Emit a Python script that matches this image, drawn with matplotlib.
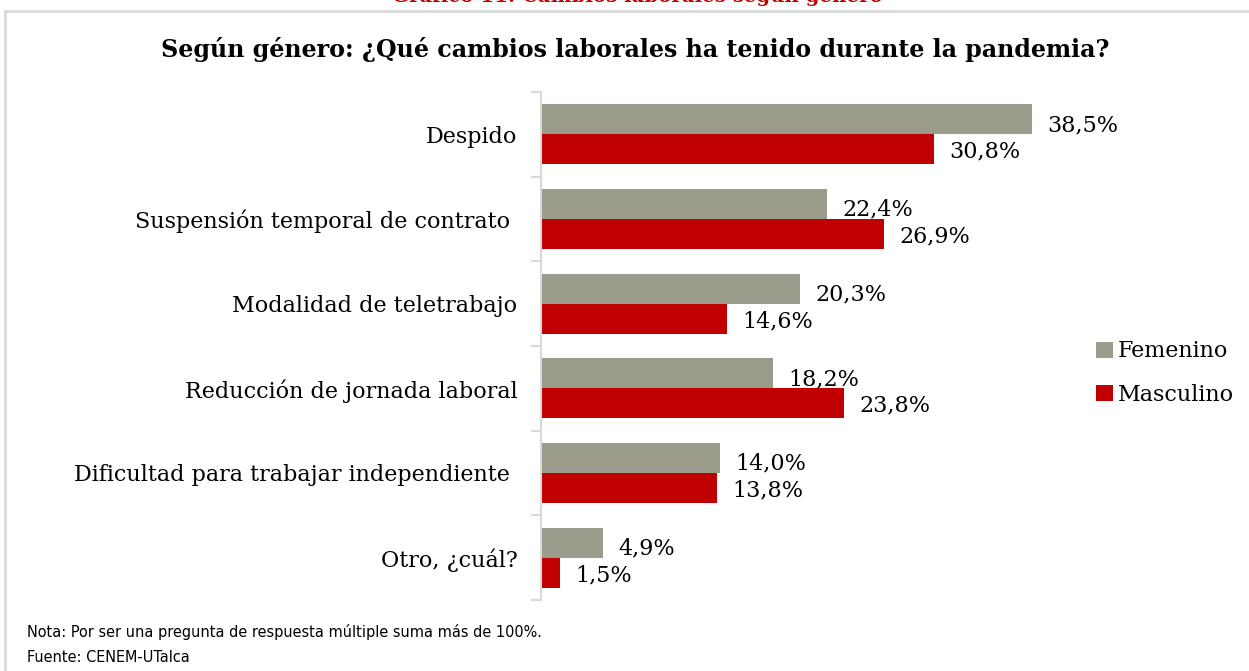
"""Cambios laborales durante la pandemia, según género (barras horizontales)."""

import matplotlib

matplotlib.use("Agg")
import matplotlib.pyplot as plt
import numpy as np
from matplotlib import font_manager
from matplotlib.font_manager import FontProperties
from matplotlib.patches import Rectangle

categories = [
    "Despido",
    "Suspensión temporal de contrato ",
    "Modalidad de teletrabajo",
    "Reducción de jornada laboral",
    "Dificultad para trabajar independiente ",
    "Otro, ¿cuál?",
]
femenino = [38.5, 22.4, 20.3, 18.2, 14.0, 4.9]
masculino = [30.8, 26.9, 14.6, 23.8, 13.8, 1.5]
series_names = ["Femenino", "Masculino"]

GRAY = "#9B9B8B"
RED = "#C00000"
SERIF = ["DejaVu Serif"]


def narrow_sans(size: float) -> FontProperties:
    """Pick a condensed sans face if one is installed, else shrink a normal one."""
    wanted = ("Liberation Sans Narrow", "DejaVu Sans", "Noto Sans", "Open Sans")
    for name in wanted:
        for entry in font_manager.fontManager.ttflist:
            if (entry.name == name and entry.style == "normal"
                    and str(entry.stretch) in ("condensed", "semi-condensed")
                    and entry.weight in (400, "normal", "regular")):
                return FontProperties(fname=entry.fname, size=size)
    return FontProperties(family="Liberation Sans", size=size * 0.8)


W, H = 1249, 671
fig = plt.figure(figsize=(W / 100, H / 100), dpi=100)
fig.patch.set_facecolor("white")

# outer frame
fig.patches.append(
    Rectangle((5 / W, -0.05), 1.1, 1 - 11 / H + 0.05, transform=fig.transFigure,
              fill=False, edgecolor="#D9D9D9", linewidth=2)
)

# cut-off caption at the very top
fig.text(637 / W, 1 + 4 / H, "Gráfico 11: Cambios laborales según género",
         ha="center", va="center", color=RED, fontsize=14.2, fontweight="bold",
         family=SERIF)

fig.text(635 / W, 1 - 50 / H,
         "Según género: ¿Qué cambios laborales ha tenido durante la pandemia?",
         ha="center", va="center", fontsize=17.1, fontweight="bold", family=SERIF)

ax = fig.add_axes([541 / W, 71 / H, 519 / W, 508 / H])
y = np.arange(len(categories))
h = 0.355
ax.barh(y - h / 2, femenino, height=h, color=GRAY, label=series_names[0])
ax.barh(y + h / 2, masculino, height=h, color=RED, label=series_names[1])

for yi, f, m in zip(y, femenino, masculino):
    ax.text(f + 1.2, yi - h / 2 + 0.07, f"{f:.1f}%".replace(".", ","),
            va="center", ha="left", fontsize=16, family=SERIF)
    ax.text(m + 1.2, yi + h / 2 + 0.03, f"{m:.1f}%".replace(".", ","),
            va="center", ha="left", fontsize=16, family=SERIF)

ax.set_xlim(0, 40.7)
ax.set_ylim(len(categories) - 0.5, -0.5)
ax.set_yticks(y)
ax.set_yticklabels(categories, fontsize=16, family=SERIF)
ax.tick_params(axis="y", which="major", length=0, pad=17)
ax.set_yticks(np.arange(len(categories) + 1) - 0.5, minor=True)
ax.tick_params(axis="y", which="minor", length=7, color="#D9D9D9", width=1.5)
ax.set_xticks([])
for side in ("top", "right", "bottom"):
    ax.spines[side].set_visible(False)
ax.spines["left"].set_color("#D9D9D9")
ax.spines["left"].set_linewidth(1.5)

fig.legend(loc="center left", bbox_to_anchor=(1076 / W, 1 - 373 / H),
           frameon=False, prop={"family": SERIF, "size": 16},
           handlelength=0.75, handleheight=0.75, handletextpad=0.25,
           labelspacing=0.95)

note_font = narrow_sans(11.6)
fig.text(27 / W, 1 - 632 / H,
         "Nota: Por ser una pregunta de respuesta múltiple suma más de 100%.",
         ha="left", va="center", fontproperties=note_font)
fig.text(27 / W, 1 - 657 / H, "Fuente: CENEM-UTalca",
         ha="left", va="center", fontproperties=note_font)

fig.savefig("out.png", dpi=100)
